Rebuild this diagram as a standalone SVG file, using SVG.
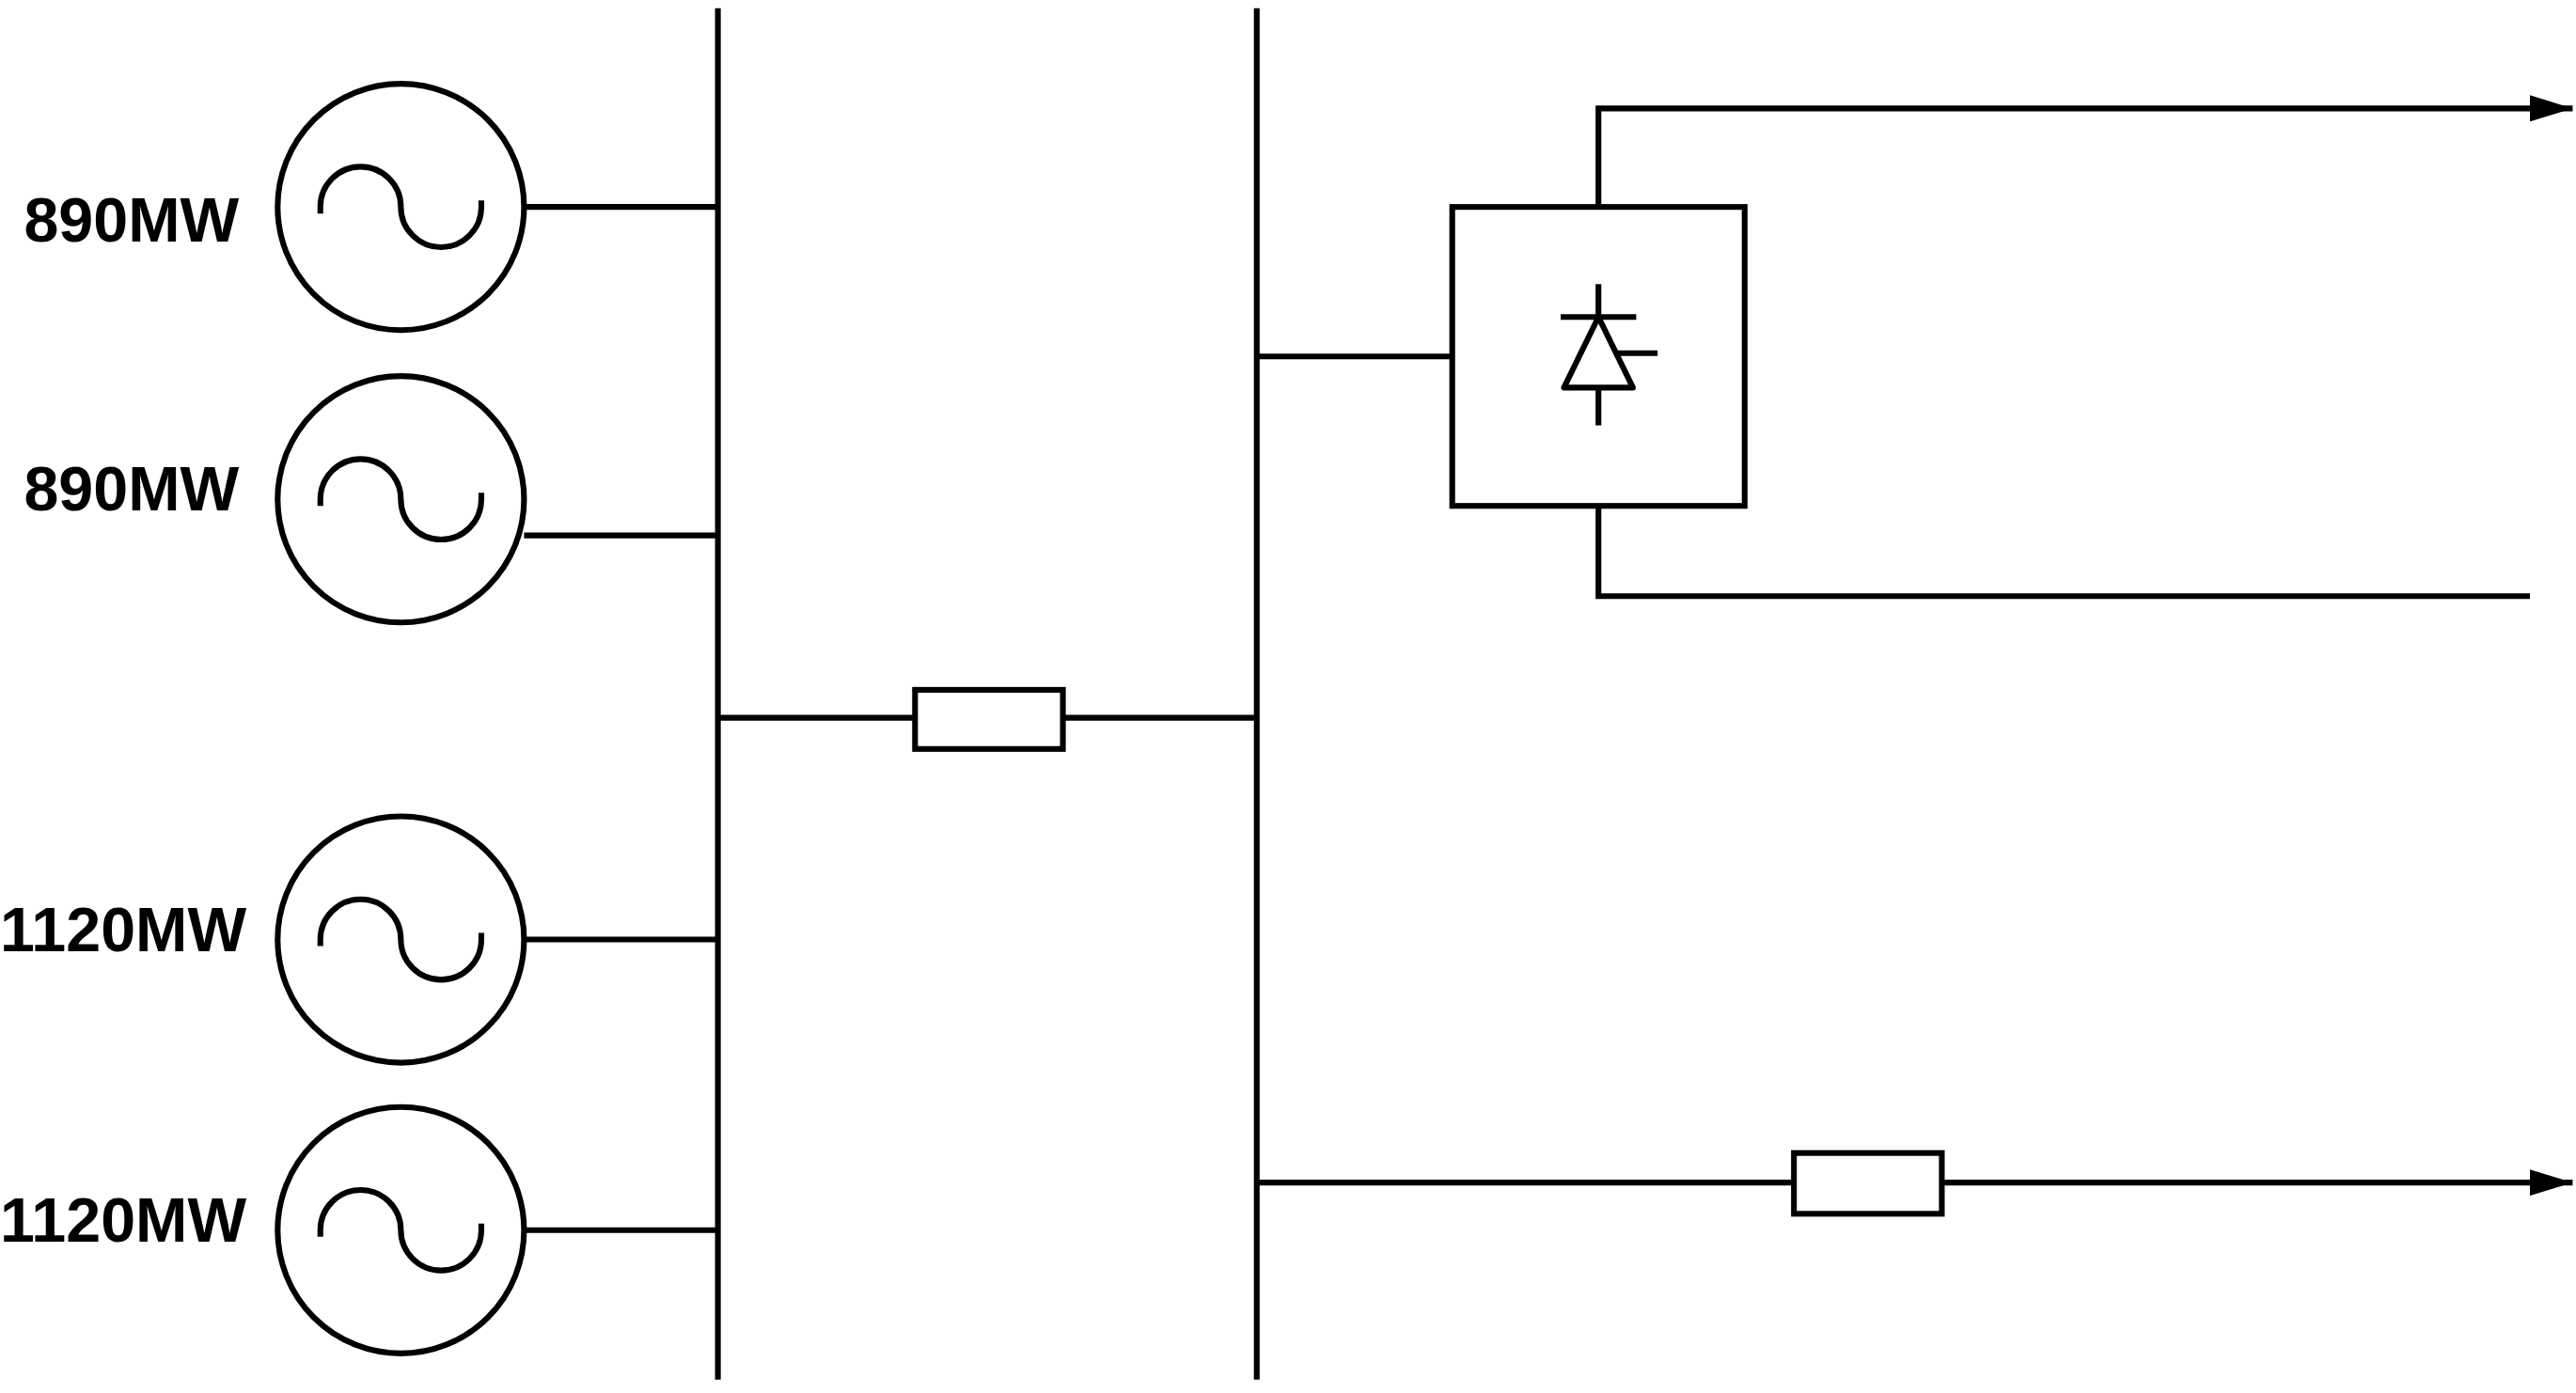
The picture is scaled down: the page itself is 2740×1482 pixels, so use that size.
<svg xmlns="http://www.w3.org/2000/svg" width="2740" height="1482" viewBox="0 0 2740 1482">
<defs>
<style>
.s{fill:none;stroke:#000;stroke-width:3.5}
.t{font-family:"Liberation Sans",Arial,sans-serif;font-weight:bold;font-size:38px;fill:#000}
</style>
<marker id="a" viewBox="0 0 26 16" markerWidth="26" markerHeight="16" refX="26" refY="8" orient="auto" markerUnits="userSpaceOnUse"><path d="M0,0 L26,8 L0,16Z" fill="#000"/></marker>
</defs>
<rect width="2740" height="1482" fill="#fff"/>
<g transform="scale(1.7474)">
<g id="bus1"><line class="s" x1="437" y1="5" x2="437" y2="840"/></g>
<g id="bus2"><line class="s" x1="765" y1="5" x2="765" y2="840"/></g>
<g id="gen1"><circle class="s" cx="244" cy="126" r="75"/><path class="s" d="M195,130 L195,126 A24.5,24.5 0 0 1 244,126 A24.5,24.5 0 0 0 293,126 L293,122"/><text class="t" x="80" y="147" text-anchor="middle">890MW</text></g>
<g id="gen2"><circle class="s" cx="244" cy="304" r="75"/><path class="s" d="M195,308 L195,304 A24.5,24.5 0 0 1 244,304 A24.5,24.5 0 0 0 293,304 L293,300"/><text class="t" x="80" y="311" text-anchor="middle">890MW</text></g>
<g id="gen3"><circle class="s" cx="244" cy="572" r="75"/><path class="s" d="M195,576 L195,572 A24.5,24.5 0 0 1 244,572 A24.5,24.5 0 0 0 293,572 L293,568"/><text class="t" x="75" y="579" text-anchor="middle">1120MW</text></g>
<g id="gen4"><circle class="s" cx="244" cy="749" r="75"/><path class="s" d="M195,753 L195,749 A24.5,24.5 0 0 1 244,749 A24.5,24.5 0 0 0 293,749 L293,745"/><text class="t" x="75" y="756" text-anchor="middle">1120MW</text></g>
<g id="res1"><rect class="s" x="557" y="420" width="90" height="36"/></g>
<g id="res2"><rect class="s" x="1092" y="702" width="90" height="37"/></g>
<g id="converter"><rect class="s" x="884" y="126" width="178" height="182"/>
<line class="s" x1="973" y1="173" x2="973" y2="193"/>
<line class="s" x1="973" y1="236" x2="973" y2="259"/>
<polygon class="s" points="973,193 952,236 994,236" stroke-linejoin="round"/>
<line class="s" x1="950" y1="193" x2="996" y2="193"/>
<line class="s" x1="984" y1="215" x2="1009" y2="215"/></g>
<g id="connectors">
<line class="s" x1="319" y1="126" x2="437" y2="126"/>
<line class="s" x1="319" y1="326" x2="437" y2="326"/>
<line class="s" x1="319" y1="572" x2="437" y2="572"/>
<line class="s" x1="319" y1="749" x2="437" y2="749"/>
<line class="s" x1="437" y1="437" x2="557" y2="437"/>
<line class="s" x1="647" y1="437" x2="765" y2="437"/>
<line class="s" x1="765" y1="217" x2="884" y2="217"/>
<polyline class="s" points="973,126 973,66 1566,66" marker-end="url(#a)"/>
<polyline class="s" points="973,308 973,363 1540,363"/>
<line class="s" x1="765" y1="720" x2="1092" y2="720"/>
<line class="s" x1="1182" y1="720" x2="1566" y2="720" marker-end="url(#a)"/>
</g>
</g>
</svg>
